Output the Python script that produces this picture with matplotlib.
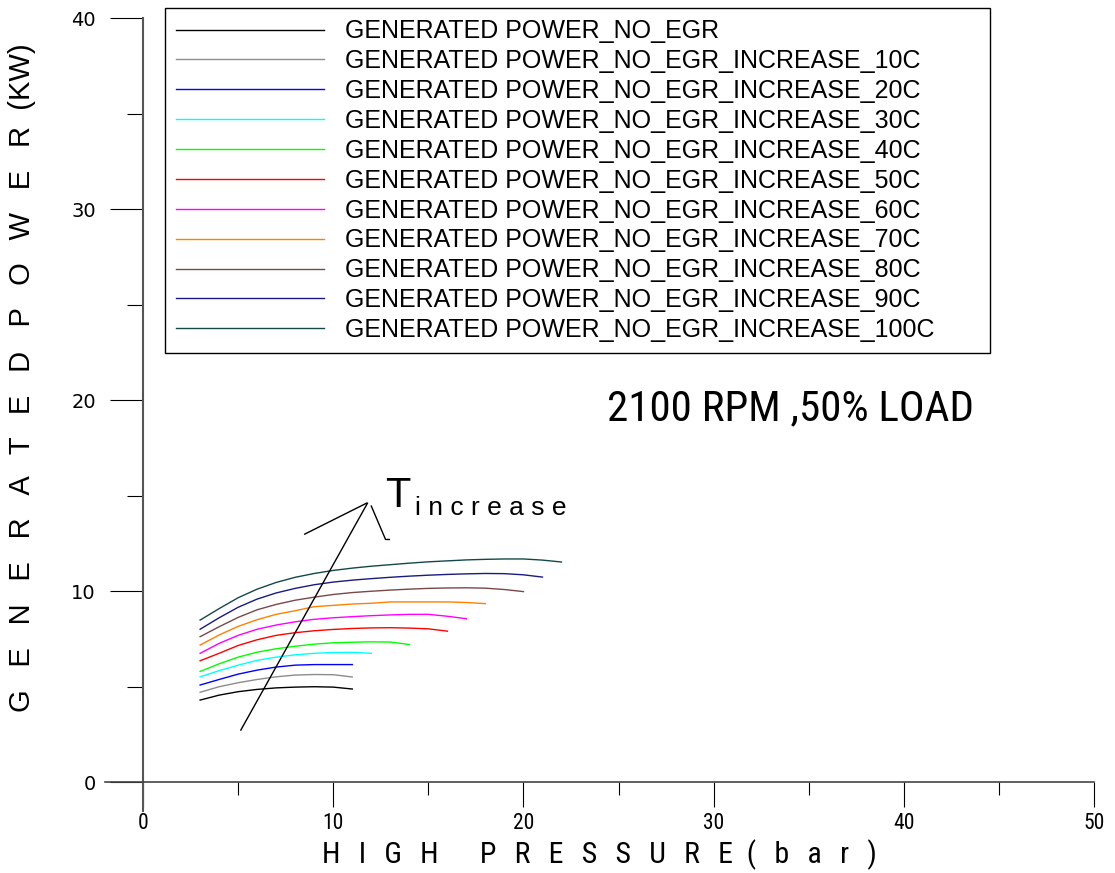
import matplotlib
matplotlib.use("Agg")
import matplotlib.pyplot as plt

plt.rcParams['font.family'] = ['Liberation Sans', 'DejaVu Sans']

# data: pressure (bar) -> generated power (kW)
labels = ["GENERATED POWER_NO_EGR",
          "GENERATED POWER_NO_EGR_INCREASE_10C",
          "GENERATED POWER_NO_EGR_INCREASE_20C",
          "GENERATED POWER_NO_EGR_INCREASE_30C",
          "GENERATED POWER_NO_EGR_INCREASE_40C",
          "GENERATED POWER_NO_EGR_INCREASE_50C",
          "GENERATED POWER_NO_EGR_INCREASE_60C",
          "GENERATED POWER_NO_EGR_INCREASE_70C",
          "GENERATED POWER_NO_EGR_INCREASE_80C",
          "GENERATED POWER_NO_EGR_INCREASE_90C",
          "GENERATED POWER_NO_EGR_INCREASE_100C"]
colors = ['#000000', '#8c8c8c', '#0000ff', '#00ffff', '#00ff00', '#ff0000',
          '#ff00ff', '#ff8000', '#7a4848', '#1a1a80', '#144848']

p_start = 3
p_end = [11, 11, 11, 12, 14, 16, 17, 18, 20, 21, 22]

power_0 = [4.29, 4.55, 4.73, 4.85, 4.93, 4.97, 4.99, 4.97, 4.87]
power_10 = [4.70, 4.99, 5.20, 5.37, 5.51, 5.60, 5.63, 5.62, 5.50]
power_20 = [5.08, 5.37, 5.65, 5.86, 6.02, 6.12, 6.15, 6.15, 6.15]
power_30 = [5.51, 5.83, 6.12, 6.37, 6.54, 6.66, 6.74, 6.78, 6.79, 6.74]
power_40 = [5.79, 6.19, 6.54, 6.80, 6.98, 7.11, 7.22, 7.29, 7.32, 7.34, 7.33, 7.20]
power_50 = [6.35, 6.74, 7.15, 7.45, 7.68, 7.82, 7.92, 7.99, 8.04, 8.07, 8.08,
            8.06, 8.02, 7.90]
power_60 = [6.74, 7.26, 7.68, 8.00, 8.22, 8.39, 8.52, 8.60, 8.66, 8.71, 8.75,
            8.78, 8.78, 8.68, 8.55]
power_70 = [7.17, 7.70, 8.15, 8.50, 8.78, 8.97, 9.18, 9.25, 9.32, 9.36, 9.43,
            9.43, 9.43, 9.43, 9.40, 9.34]
power_80 = [7.61, 8.13, 8.62, 9.02, 9.30, 9.52, 9.68, 9.82, 9.92, 9.99, 10.05,
            10.10, 10.14, 10.16, 10.17, 10.15, 10.08, 9.97]
power_90 = [8.00, 8.60, 9.15, 9.58, 9.90, 10.14, 10.33, 10.47, 10.57, 10.65,
            10.72, 10.78, 10.83, 10.87, 10.90, 10.92, 10.91, 10.85, 10.73]
power_100 = [8.48, 9.08, 9.65, 10.10, 10.45, 10.72, 10.92, 11.08, 11.20, 11.30,
             11.38, 11.46, 11.53, 11.58, 11.63, 11.66, 11.68, 11.68, 11.62, 11.52]
powers = [power_0, power_10, power_20, power_30, power_40, power_50,
          power_60, power_70, power_80, power_90, power_100]

narrow = ['Roboto Condensed', 'Liberation Sans', 'DejaVu Sans']

fig = plt.figure(figsize=(11.15, 8.73), dpi=100)
ax = fig.add_axes([0.1283, 0.1042, 0.8529, 0.8751])

for lab, col, end, pw in zip(labels, colors, p_end, powers):
    x = list(range(p_start, end + 1))
    ax.plot(x, pw, color=col, lw=1.0, label=lab)

ax.set_xlim(0, 50)
ax.set_ylim(0, 40)
for s in ax.spines.values():
    s.set_visible(False)

# axis lines, a bit longer than the data range like in the original
ax.plot([0, 0], [-1.5, 40], color='#555555', lw=1.5, clip_on=False)
ax.plot([-2.0, 50], [0, 0], color='#444444', lw=1.2, clip_on=False)

ax.set_xticks(range(0, 51, 10))
ax.set_xticks(range(5, 50, 10), minor=True)
ax.set_yticks(range(0, 41, 10))
ax.set_yticks(range(5, 40, 10), minor=True)
ax.tick_params(axis='x', which='major', direction='out', length=18, width=0.8, pad=4, labelsize=15.5)
ax.tick_params(axis='x', which='minor', direction='out', length=9.5, width=0.8)
ax.tick_params(axis='y', which='major', direction='out', length=24, width=0.8, pad=10, labelsize=14)
ax.tick_params(axis='y', which='minor', direction='out', length=11.5, width=0.8)
for t in ax.get_yticklabels():
    t.set_family(['DejaVu Sans'])
for t in ax.get_xticklabels():
    t.set_family(narrow)

leg = ax.legend(loc='upper left', bbox_to_anchor=(0.0231, 0.5, 0.8675, 0.5131),
                mode='expand', borderaxespad=0,
                fontsize=18, handlelength=5.9, handletextpad=0.85, labelspacing=0.235,
                borderpad=0.45, fancybox=False, framealpha=1, edgecolor='black')
leg.get_frame().set_linewidth(1.0)

# T increase annotation
ax.plot([5.14, 11.8], [2.72, 14.6], color='black', lw=1.0)
ax.plot([11.75, 8.5], [14.6, 12.98], color='black', lw=1.0)
ax.plot([12.0, 12.75, 12.95], [14.45, 12.7, 12.7], color='black', lw=1.0)
ax.text(12.75, 14.40, "T", fontsize=30, ha='left', va='baseline')
ax.text(14.30, 13.98, "i n c r e a s e", fontsize=19, ha='left', va='baseline')

ax.text(24.4, 18.95, "2100 RPM ,50% LOAD", fontsize=31, ha='left', va='baseline',
        family=narrow)

sp = ' \u2002'
ylab = sp.join("GENERATED") + '   ' + sp.join("POWER") + '  (KW)'
fig.text(0.0197, 0.5676, ylab, rotation=90, ha='center', va='center', fontsize=21)
sp2 = '\u2002\u2006'
xlab = sp2.join("HIGH") + '      ' + sp2.join("PRESSURE") + '  ' + sp2.join("(bar)")
fig.text(0.5372, 0.004, xlab, ha='center', va='bottom', fontsize=21.5, family=narrow)

fig.savefig("out.png", dpi=100)
